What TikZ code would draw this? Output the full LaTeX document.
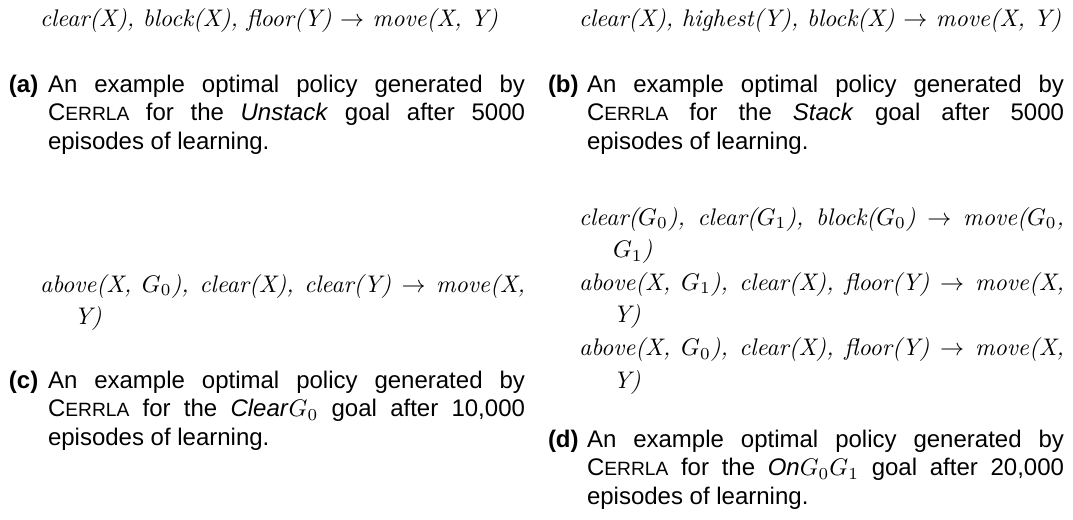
\documentclass[tikz,border=0pt]{standalone}
\usepackage{fontspec}
\newfontfamily\capfont{Liberation Sans}
% faked small capitals for the system name
\newcommand\cerrla{C{\fontsize{8}{12}\selectfont ERRLA}}
% one policy rule as a paragraph with a hanging indent
\newcommand\ruleline[1]{\leavevmode\hangindent=14.2pt\hangafter=1 #1\endgraf}
\tikzset{
  every node/.style={inner sep=0pt, outer sep=0pt},
  policy/.style={anchor=base west, font=\fontsize{10}{13.6}\selectfont\itshape},
  policybox/.style={policy, text width=202.1pt, align=justify},
  sublabel/.style={anchor=base west, font=\fontsize{10}{12}\selectfont\capfont\bfseries},
  captext/.style={anchor=base west, text width=198.75pt, align=justify,
    font=\fontsize{10}{12}\selectfont\capfont},
}
\begin{document}
\begin{tikzpicture}[x=0.41667pt, y=-0.41667pt]
\useasboundingbox (0,0) rectangle (1073,520);

% (a) Unstack
\node[policy] (ra) at (40,27)
  {clear(X), block(X), floor(Y) $\rightarrow$ move(X, Y)};
\node[sublabel] (la) at (9,92) {(a)};
\node[captext] (ca) at (48,92)
  {An example optimal policy generated by\linebreak
   \cerrla{} for the \textit{Unstack} goal after 5000\linebreak
   episodes of learning.};

% (b) Stack
\node[policy] (rb) at (579,27)
  {clear(X), highest(Y), block(X) $\rightarrow$ move(X, Y)};
\node[sublabel] (lb) at (548,92) {(b)};
\node[captext] (cb) at (587,92)
  {An example optimal policy generated by\linebreak
   \cerrla{} for the \textit{Stack} goal after 5000\linebreak
   episodes of learning.};

% (c) Clear G0
\node[policybox] (rc) at (40,292)
  {\ruleline{above(X, $G_0$), clear(X), clear(Y) $\rightarrow$ move(X,\linebreak Y)}};
\node[sublabel] (lc) at (9,388) {(c)};
\node[captext] (cc) at (48,388)
  {An example optimal policy generated by\linebreak
   \cerrla{} for the \textit{Clear}$G_0$ goal after 10,000\linebreak
   episodes of learning.};

% (d) On G0 G1
\node[policybox] (rd) at (579,225)
  {\ruleline{clear($G_0$), clear($G_1$), block($G_0$) $\rightarrow$ move($G_0$,\linebreak $G_1$)}%
   \ruleline{above(X, $G_1$), clear(X), floor(Y) $\rightarrow$ move(X,\linebreak Y)}%
   \ruleline{above(X, $G_0$), clear(X), floor(Y) $\rightarrow$ move(X,\linebreak Y)}};
\node[sublabel] (ld) at (548,447) {(d)};
\node[captext] (cd) at (587,447)
  {An example optimal policy generated by\linebreak
   \cerrla{} for the \textit{On}$G_0G_1$ goal after 20,000\linebreak
   episodes of learning.};
\end{tikzpicture}
\end{document}
